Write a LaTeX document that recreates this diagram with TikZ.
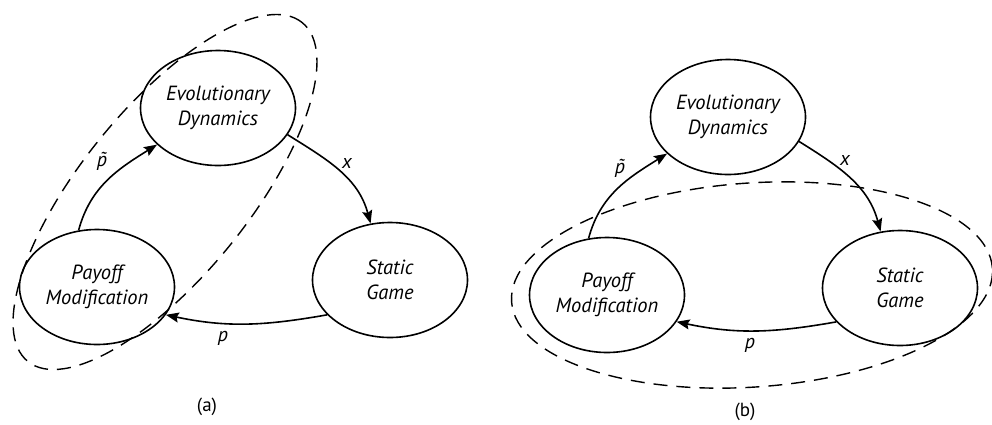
\documentclass[tikz,border=0pt]{standalone}
\usepackage{fontspec}
\setmainfont{PT Sans}
\usetikzlibrary{shapes.geometric,arrows.meta}
\newcommand{\ptilde}{\accent"02DC p}
\tikzset{
  stnode/.style={ellipse, draw, line width=1.6pt, inner sep=0pt, minimum width=155pt, minimum height=115pt,
    align=center, font=\fontsize{20.5}{25}\selectfont\itshape},
  conn/.style={line width=1.6pt, -{Stealth[length=13pt,width=10pt,inset=2pt]}},
  lbl/.style={font=\fontsize{20}{24}\selectfont\itshape, inner sep=0pt},
  captext/.style={font=\fontsize{19}{22}\selectfont, inner sep=0pt},
  grp/.style={line width=1.4pt, dash pattern=on 14pt off 9pt}
}
\begin{document}
\begin{tikzpicture}[x=1pt,y=-1pt]
\useasboundingbox (0,0) rectangle (992,424);
% ---------- (a)
\node[stnode] (eda) at (218,108) {Evolutionary\\Dynamics};
\node[stnode] (pma) at (97,287) {Payoff\\Modification};
\node[stnode] (sga) at (390,280) {Static\\Game};
\draw[conn] (pma.108) to[out=75,in=212] (eda.211);
\draw[conn] (eda.339) to[out=-32,in=105] (sga.109);
\draw[conn] (sga.209) to[out=190,in=-12] (pma.338);
\node[lbl] (pta) at (102,161) {\ptilde};
\node[lbl] (xa) at (347,163) {x};
\node[lbl] (pa) at (223,338) {p};
\node[captext] (capa) at (207,407) {(a)};
\draw[grp, rotate around={51:(165,192)}] (165,192) ellipse [x radius=218pt, y radius=84pt];
% ---------- (b)
\node[stnode] (edb) at (728,117) {Evolutionary\\Dynamics};
\node[stnode] (pmb) at (607,295) {Payoff\\Modification};
\node[stnode] (sgb) at (900,288) {Static\\Game};
\draw[conn] (pmb.108) to[out=75,in=212] (edb.211);
\draw[conn] (edb.341) to[out=-32,in=105] (sgb.109);
\draw[conn] (sgb.208) to[out=190,in=-12] (pmb.339);
\node[lbl] (ptb) at (620,168) {\ptilde};
\node[lbl] (xb) at (845,160) {x};
\node[lbl] (pb) at (750,345) {p};
\node[captext] (capb) at (745,412) {(b)};
\draw[grp, rotate around={4:(752,285)}] (752,285) ellipse [x radius=241pt, y radius=102pt];
\end{tikzpicture}
\end{document}
